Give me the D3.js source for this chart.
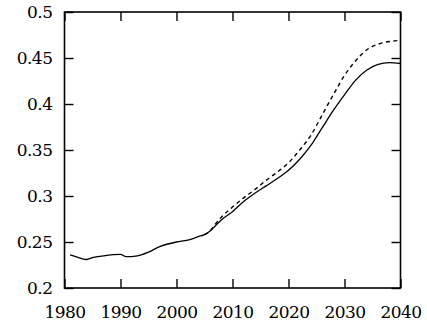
<!DOCTYPE html>
<html lang="en">
<head>
  <meta charset="UTF-8" />
  <title>Ratio projection</title>
  <script src="https://cdn.jsdelivr.net/npm/d3@7"></script>
  <style>
    body {
      margin: 0;
      background-color: #fff;
    }
  </style>
</head>
<body>
  <div id="chart"></div>

  <script>
    // Solid series (history + baseline projection)
    const solidYears = [1981, 1982, 1984, 1985, 1987, 1990, 1991, 1993, 1995, 1997, 2000, 2002, 2004, 2005,
      2006, 2007, 2008, 2010, 2012, 2014, 2016, 2018, 2020, 2022, 2024, 2026, 2028, 2030, 2032, 2034,
      2036, 2038, 2040];
    const solidValues = [0.236, 0.234, 0.231, 0.233, 0.235, 0.2365, 0.234, 0.235, 0.239, 0.245, 0.250, 0.252, 0.256, 0.258,
      0.262, 0.268, 0.274, 0.283, 0.294, 0.303, 0.311, 0.319, 0.328, 0.340, 0.355, 0.374, 0.393, 0.410, 0.426, 0.437,
      0.443, 0.445, 0.444];

    // Dashed series (alternative projection)
    const dashedYears = [2005, 2006, 2007, 2008, 2010, 2012, 2014, 2016, 2018, 2020, 2022, 2024, 2026, 2028,
      2030, 2032, 2034, 2036, 2038, 2040];
    const dashedValues = [0.258, 0.262, 0.270, 0.277, 0.288, 0.298, 0.307, 0.317, 0.326, 0.336, 0.350, 0.366, 0.388, 0.410,
      0.431, 0.447, 0.459, 0.465, 0.468, 0.469];

    const xTicks = [1980, 1990, 2000, 2010, 2020, 2030, 2040];
    const yTicks = [0.2, 0.25, 0.3, 0.35, 0.4, 0.45, 0.5];

    const width = 427, height = 324;
    const margin = {top: 12, right: 26.5, bottom: 36, left: 64.5};
    const font = "'DejaVu Serif', serif";

    const svg = d3.select("#chart")
      .append("svg")
        .attr("width", width)
        .attr("height", height);

    const x = d3.scaleLinear()
      .domain([1980, 2040])
      .range([margin.left, width - margin.right]);

    const y = d3.scaleLinear()
      .domain([0.2, 0.5])
      .range([height - margin.bottom, margin.top]);

    const tick = 9;

    // Axes, ticks pointing inward on all four sides
    svg.append("g")
      .attr("transform", `translate(0,${height - margin.bottom})`)
      .call(d3.axisBottom(x).tickValues(xTicks).tickFormat(d3.format("d")).tickSize(-tick).tickPadding(18));

    svg.append("g")
      .attr("transform", `translate(${margin.left},0)`)
      .call(d3.axisLeft(y).tickValues(yTicks).tickFormat(d => String(+d.toFixed(2))).tickSize(-tick).tickPadding(12));

    svg.append("g")
      .attr("transform", `translate(0,${margin.top})`)
      .call(d3.axisTop(x).tickValues(xTicks).tickFormat("").tickSize(-tick));

    svg.append("g")
      .attr("transform", `translate(${width - margin.right},0)`)
      .call(d3.axisRight(y).tickValues(yTicks).tickFormat("").tickSize(-tick));

    svg.selectAll(".domain").remove();
    svg.selectAll(".tick line").attr("stroke", "#000").attr("stroke-width", 1.4);
    svg.selectAll("g").attr("font-family", font).attr("font-size", 17);
    svg.selectAll(".tick text")
      .attr("fill", "#000")
      .attr("letter-spacing", -0.5);

    // Frame
    svg.append("rect")
      .attr("x", margin.left)
      .attr("y", margin.top)
      .attr("width", width - margin.left - margin.right)
      .attr("height", height - margin.top - margin.bottom)
      .attr("fill", "none")
      .attr("stroke", "#000")
      .attr("stroke-width", 1.6);

    const line = d3.line()
      .x(d => x(d[0]))
      .y(d => y(d[1]))
      .curve(d3.curveMonotoneX);

    svg.append("path")
      .datum(dashedYears.map((yr, i) => [yr, dashedValues[i]]))
      .attr("fill", "none")
      .attr("stroke", "#000")
      .attr("stroke-width", 1.4)
      .attr("stroke-dasharray", "4,3.5")
      .attr("d", line);

    svg.append("path")
      .datum(solidYears.map((yr, i) => [yr, solidValues[i]]))
      .attr("fill", "none")
      .attr("stroke", "#000")
      .attr("stroke-width", 1.3)
      .attr("d", line);
  </script>
</body>
</html>
